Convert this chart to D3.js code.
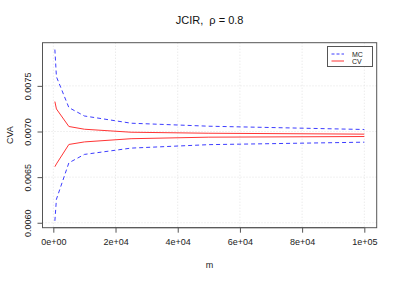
<!DOCTYPE html>
<html><head><meta charset="utf-8">
<script src="https://cdn.jsdelivr.net/npm/d3@7"></script>
<style>body{margin:0;background:#fff}svg{display:block;font-family:"Liberation Sans",Arial,sans-serif}text{white-space:pre}</style>
</head><body><svg id="c" width="399" height="281"></svg>
<script>
const m = [500, 1000, 5000, 10000, 25000, 50000, 100000];
const mcUpper = [0.007898, 0.007600, 0.007262, 0.007170, 0.007091, 0.007058, 0.007022];
const mcLower = [0.006021, 0.006258, 0.006657, 0.006749, 0.006818, 0.006856, 0.006883];
const cvUpper = [0.007328, 0.007247, 0.007055, 0.007025, 0.006992, 0.006981, 0.006971];
const cvLower = [0.006614, 0.006645, 0.006858, 0.006886, 0.006921, 0.006938, 0.006945];
const xTicks = [0, 20000, 40000, 60000, 80000, 100000];
const xTickLabels = ["0e+00", "2e+04", "4e+04", "6e+04", "8e+04", "1e+05"];
const yTicks = [0.0060, 0.0065, 0.0070, 0.0075];
const yTickLabels = ["0.0060", "0.0065", "0.0070", "0.0075"];
const seriesNames = ["MC", "CV"];
const seriesColors = ["#3d3dff", "#ff3535"];

const svg = d3.select("#c");
const L = 42.5, R = 376.7, T = 42.7, B = 227.7;
const allY = mcUpper.concat(mcLower, cvUpper, cvLower);
const yMin = d3.min(allY), yMax = d3.max(allY), yPad = (yMax - yMin) * 0.04;
const xMin = d3.min(m), xMax = d3.max(m), xPad = (xMax - xMin) * 0.04;
const x = d3.scaleLinear().domain([xMin - xPad, xMax + xPad]).range([L, R]);
const y = d3.scaleLinear().domain([yMin - yPad, yMax + yPad]).range([B, T]);

// grid
const grid = svg.append("g").attr("stroke", "#e2e2e2").attr("stroke-dasharray", "1,2").attr("stroke-width", 1);
xTicks.forEach(t => grid.append("line").attr("x1", x(t)).attr("x2", x(t)).attr("y1", T).attr("y2", B));
yTicks.forEach(t => grid.append("line").attr("y1", y(t)).attr("y2", y(t)).attr("x1", L).attr("x2", R));

// lines
const line = d3.line().x((d, i) => x(m[i])).y(d => y(d));
[[mcUpper, 0], [mcLower, 0], [cvUpper, 1], [cvLower, 1]].forEach(([arr, s]) => {
  svg.append("path").attr("d", line(arr)).attr("fill", "none")
    .attr("stroke", seriesColors[s]).attr("stroke-width", 1)
    .attr("stroke-dasharray", s === 0 ? "4,3" : null);
});

// box
svg.append("rect").attr("x", L).attr("y", T).attr("width", R - L).attr("height", B - T)
  .attr("fill", "none").attr("stroke", "#555").attr("stroke-width", 1);

// x axis
const xa = svg.append("g").attr("transform", `translate(0,${B})`)
  .call(d3.axisBottom(x).tickValues(xTicks).tickFormat((d, i) => xTickLabels[i]).tickSize(5).tickPadding(6));
xa.select(".domain").attr("d", `M${x(xTicks[0])},0V0H${x(xTicks[xTicks.length-1])}V0`).attr("stroke", "#555");
xa.selectAll(".tick line").attr("stroke", "#555");
xa.selectAll("text").attr("font-size", 9).attr("fill", "#222").attr("font-family", "Liberation Sans, Arial, sans-serif");

// y axis
const ya = svg.append("g").attr("transform", `translate(${L},0)`)
  .call(d3.axisLeft(y).tickValues(yTicks).tickFormat((d, i) => yTickLabels[i]).tickSize(5).tickPadding(5));
ya.select(".domain").attr("d", `M0,${y(yTicks[0])}H0V${y(yTicks[yTicks.length-1])}H0`).attr("stroke", "#555");
ya.selectAll(".tick line").attr("stroke", "#555");
ya.selectAll(".tick text").attr("font-size", 9).attr("fill", "#222").attr("font-family", "Liberation Sans, Arial, sans-serif")
  .attr("text-anchor", "middle").attr("x", null).attr("dy", null)
  .attr("transform", "translate(-15,0) rotate(-90)").attr("dominant-baseline", "central");

// titles
svg.append("text").attr("x", (L + R) / 2).attr("y", 24).attr("text-anchor", "middle")
  .attr("font-size", 11).attr("fill", "#111").text("JCIR,  \u03c1 = 0.8");
svg.append("text").attr("x", (L + R) / 2).attr("y", 268).attr("text-anchor", "middle")
  .attr("font-size", 9).attr("fill", "#222").text("m");
svg.append("text").attr("transform", `translate(10,${(T + B) / 2}) rotate(-90)`).attr("text-anchor", "middle")
  .attr("dominant-baseline", "central").attr("font-size", 9).attr("fill", "#222").text("CVA");

// legend
const lg = svg.append("g");
lg.append("rect").attr("x", 327.5).attr("y", 46.5).attr("width", 45).attr("height", 20)
  .attr("fill", "#fff").attr("stroke", "#555");
seriesNames.forEach((n, i) => {
  const yy = 54 + i * 7;
  lg.append("line").attr("x1", 331.5).attr("x2", 344).attr("y1", yy).attr("y2", yy)
    .attr("stroke", seriesColors[i]).attr("stroke-dasharray", i === 0 ? "3,2" : null);
  lg.append("text").attr("x", 352).attr("y", yy).attr("dominant-baseline", "central")
    .attr("font-size", 7).attr("fill", "#222").text(n);
});
</script></body></html>
